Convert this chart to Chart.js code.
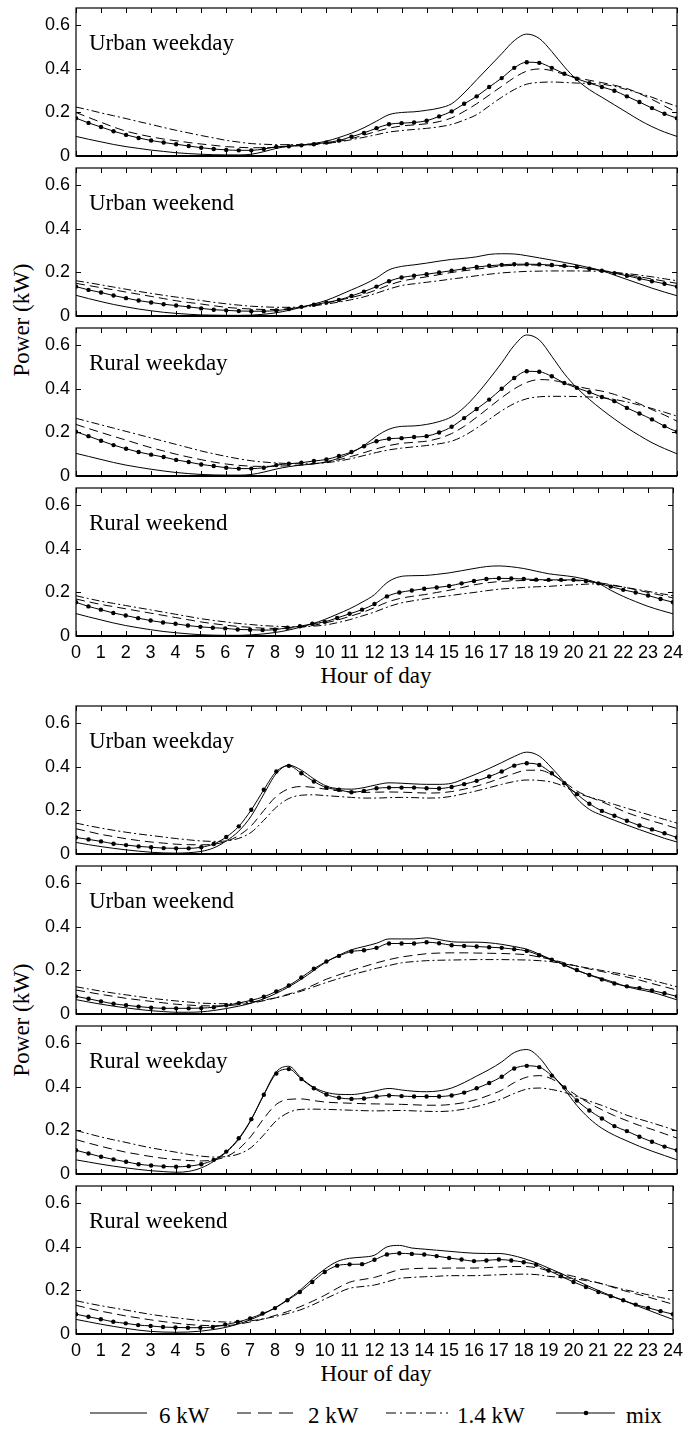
<!DOCTYPE html>
<html>
<head>
<meta charset="utf-8">
<script src="https://cdn.jsdelivr.net/npm/chart.js@4.4.0/dist/chart.umd.min.js"></script>
<style>
  body { margin: 0; background: #fff; }
  #page { position: relative; width: 689px; height: 1429px; overflow: hidden; background: #fff; }
  #page canvas { position: absolute; left: 0; }
  .serif { position: absolute; font-family: "Liberation Serif", "Times New Roman", serif; font-size: 23px; color: #000; white-space: nowrap; }
  .ylab { transform: translate(-50%, -50%) rotate(-90deg); }
  .xlab { transform: translate(-50%, -50%); }
  #legend { position: absolute; left: 0; top: 1395px; }
</style>
</head>
<body>
<div id="page">
  <div class="serif ylab" style="left:22px; top:320px;">Power (kW)</div>
  <div class="serif xlab" style="left:376px; top:676px;">Hour of day</div>
  <div class="serif ylab" style="left:22px; top:1020px;">Power (kW)</div>
  <div class="serif xlab" style="left:376px; top:1374px;">Hour of day</div>
  <svg id="legend" width="689" height="34" font-family="Liberation Serif, Times New Roman, serif" font-size="23">
    <line x1="90" y1="18" x2="147" y2="18" stroke="#000" stroke-width="1"/>
    <text x="159" y="28">6 kW</text>
    <line x1="237" y1="18" x2="294" y2="18" stroke="#000" stroke-width="1" stroke-dasharray="14,7"/>
    <text x="308" y="28">2 kW</text>
    <line x1="386" y1="18" x2="448" y2="18" stroke="#000" stroke-width="1" stroke-dasharray="10,4,2,4"/>
    <text x="457" y="28">1.4 kW</text>
    <line x1="556" y1="18" x2="615" y2="18" stroke="#000" stroke-width="1"/>
    <circle cx="586" cy="18" r="2.3" fill="#000"/>
    <text x="626" y="28">mix</text>
  </svg>
</div>
<script>
// half-hour sample points
var hours = [0,0.5,1,1.5,2,2.5,3,3.5,4,4.5,5,5.5,6,6.5,7,7.5,8,8.5,9,9.5,10,10.5,11,11.5,12,12.5,
  13,13.5,14,14.5,15,15.5,16,16.5,17,17.5,18,18.5,19,19.5,20,20.5,21,21.5,22,22.5,23,23.5,24];
var xTickValues = [0,1,2,3,4,5,6,7,8,9,10,11,12,13,14,15,16,17,18,19,20,21,22,23,24];
var xTickLabels = ['0','1','2','3','4','5','6','7','8','9','10','11','12','13','14','15','16','17','18','19','20','21','22','23','24'];
var yTickValues = [0, 0.2, 0.4, 0.6];
var yTickLabels = ['0', '0.2', '0.4', '0.6'];
var seriesNames = ['6 kW', '2 kW', '1.4 kW', 'mix'];
var panelNames = ['Urban weekday', 'Urban weekend', 'Rural weekday', 'Rural weekend'];

// upper group
var uwd1_6 = [0.09,0.077,0.065,0.053,0.043,0.035,0.027,0.021,0.015,0.011,0.008,0.006,0.005,0.005,0.008,0.02,0.035,0.045,0.05,0.058,0.068,0.085,0.105,0.13,0.16,0.19,0.2,0.203,0.21,0.22,0.24,0.29,0.35,0.41,0.47,0.53,0.56,0.54,0.48,0.41,0.35,0.305,0.27,0.235,0.2,0.165,0.135,0.11,0.09];
var uwd1_2 = [0.2,0.177,0.155,0.133,0.114,0.1,0.088,0.078,0.07,0.062,0.055,0.049,0.043,0.04,0.038,0.038,0.04,0.044,0.048,0.052,0.058,0.067,0.08,0.096,0.113,0.128,0.138,0.143,0.148,0.158,0.175,0.205,0.24,0.28,0.32,0.36,0.39,0.4,0.392,0.375,0.36,0.348,0.337,0.325,0.31,0.287,0.26,0.23,0.2];
var uwd1_14 = [0.225,0.212,0.198,0.185,0.172,0.158,0.145,0.131,0.118,0.106,0.094,0.083,0.072,0.064,0.057,0.054,0.052,0.052,0.053,0.055,0.058,0.065,0.075,0.086,0.098,0.11,0.117,0.122,0.127,0.134,0.145,0.165,0.19,0.23,0.27,0.305,0.33,0.338,0.34,0.338,0.335,0.333,0.33,0.32,0.305,0.288,0.27,0.248,0.228];
var uwd1_mix = [0.174,0.152,0.133,0.114,0.097,0.083,0.071,0.062,0.054,0.046,0.038,0.032,0.028,0.026,0.026,0.032,0.042,0.045,0.049,0.054,0.062,0.071,0.089,0.106,0.128,0.146,0.151,0.154,0.162,0.182,0.205,0.24,0.274,0.317,0.358,0.405,0.431,0.428,0.405,0.378,0.355,0.335,0.317,0.3,0.274,0.248,0.22,0.194,0.174];

var uwe1_6 = [0.095,0.08,0.066,0.053,0.042,0.032,0.024,0.017,0.012,0.008,0.005,0.004,0.003,0.003,0.004,0.008,0.015,0.026,0.04,0.055,0.072,0.095,0.12,0.145,0.175,0.212,0.228,0.235,0.243,0.252,0.26,0.265,0.272,0.283,0.286,0.285,0.277,0.267,0.257,0.246,0.235,0.222,0.208,0.188,0.168,0.148,0.128,0.11,0.093];
var uwe1_2 = [0.15,0.14,0.13,0.12,0.11,0.1,0.09,0.08,0.07,0.062,0.055,0.047,0.04,0.035,0.032,0.03,0.03,0.034,0.04,0.048,0.06,0.072,0.085,0.1,0.12,0.142,0.16,0.171,0.18,0.19,0.2,0.208,0.215,0.223,0.23,0.233,0.235,0.233,0.23,0.228,0.225,0.218,0.21,0.2,0.19,0.18,0.17,0.16,0.15];
var uwe1_14 = [0.162,0.153,0.143,0.133,0.123,0.113,0.104,0.095,0.087,0.079,0.071,0.063,0.056,0.05,0.045,0.042,0.04,0.04,0.042,0.047,0.055,0.064,0.075,0.088,0.105,0.124,0.14,0.148,0.155,0.162,0.17,0.177,0.185,0.192,0.198,0.202,0.205,0.206,0.207,0.207,0.207,0.206,0.205,0.2,0.195,0.188,0.18,0.171,0.162];
var uwe1_mix = [0.135,0.12,0.108,0.094,0.082,0.071,0.062,0.054,0.048,0.042,0.035,0.029,0.026,0.023,0.022,0.022,0.025,0.032,0.042,0.052,0.062,0.074,0.092,0.112,0.135,0.16,0.177,0.185,0.192,0.2,0.208,0.217,0.225,0.231,0.235,0.238,0.238,0.237,0.234,0.231,0.225,0.217,0.208,0.197,0.185,0.172,0.16,0.148,0.135];

var rwd1_6 = [0.104,0.09,0.076,0.062,0.05,0.04,0.031,0.023,0.016,0.011,0.007,0.005,0.004,0.004,0.007,0.018,0.032,0.043,0.05,0.056,0.065,0.082,0.107,0.14,0.183,0.215,0.228,0.23,0.237,0.25,0.272,0.315,0.375,0.445,0.52,0.6,0.648,0.625,0.55,0.47,0.405,0.352,0.305,0.262,0.222,0.186,0.153,0.126,0.102];
var rwd1_2 = [0.237,0.218,0.2,0.182,0.165,0.147,0.13,0.115,0.1,0.087,0.075,0.064,0.055,0.049,0.045,0.044,0.045,0.047,0.05,0.056,0.064,0.075,0.09,0.107,0.125,0.14,0.15,0.155,0.16,0.173,0.195,0.228,0.27,0.315,0.36,0.4,0.43,0.443,0.44,0.428,0.412,0.4,0.39,0.375,0.355,0.332,0.305,0.28,0.252];
var rwd1_14 = [0.265,0.25,0.235,0.22,0.205,0.19,0.175,0.16,0.145,0.13,0.115,0.102,0.09,0.079,0.07,0.064,0.06,0.057,0.056,0.057,0.061,0.069,0.08,0.094,0.108,0.12,0.128,0.134,0.14,0.148,0.16,0.185,0.22,0.26,0.3,0.333,0.355,0.364,0.366,0.366,0.365,0.363,0.36,0.352,0.34,0.326,0.31,0.293,0.275];
var rwd1_mix = [0.203,0.183,0.162,0.142,0.125,0.11,0.098,0.087,0.074,0.064,0.053,0.046,0.038,0.034,0.034,0.038,0.05,0.056,0.061,0.069,0.076,0.092,0.11,0.137,0.16,0.171,0.174,0.179,0.183,0.2,0.226,0.266,0.308,0.351,0.401,0.45,0.481,0.479,0.458,0.427,0.405,0.385,0.363,0.344,0.313,0.287,0.26,0.229,0.203];

var rwe1_6 = [0.103,0.088,0.074,0.06,0.048,0.038,0.029,0.021,0.015,0.01,0.006,0.004,0.003,0.003,0.005,0.009,0.016,0.026,0.04,0.056,0.076,0.1,0.125,0.155,0.19,0.245,0.272,0.277,0.278,0.283,0.29,0.3,0.31,0.319,0.322,0.318,0.31,0.298,0.286,0.279,0.272,0.26,0.242,0.21,0.182,0.158,0.136,0.118,0.102];
var rwe1_2 = [0.17,0.157,0.145,0.135,0.125,0.115,0.105,0.095,0.085,0.075,0.065,0.057,0.05,0.044,0.04,0.036,0.035,0.036,0.04,0.048,0.06,0.073,0.09,0.108,0.13,0.155,0.172,0.182,0.19,0.2,0.21,0.222,0.235,0.244,0.25,0.253,0.255,0.255,0.255,0.255,0.255,0.251,0.245,0.236,0.225,0.213,0.2,0.188,0.175];
var rwe1_14 = [0.185,0.172,0.16,0.15,0.14,0.13,0.12,0.11,0.1,0.09,0.08,0.072,0.065,0.058,0.053,0.048,0.045,0.043,0.042,0.045,0.05,0.061,0.075,0.092,0.11,0.132,0.15,0.161,0.17,0.178,0.185,0.193,0.2,0.208,0.215,0.219,0.223,0.226,0.228,0.232,0.235,0.238,0.24,0.233,0.225,0.215,0.205,0.195,0.185];
var rwe1_mix = [0.155,0.136,0.121,0.106,0.094,0.082,0.071,0.062,0.056,0.048,0.042,0.038,0.035,0.03,0.029,0.027,0.029,0.038,0.045,0.056,0.065,0.083,0.102,0.121,0.147,0.182,0.2,0.209,0.217,0.223,0.23,0.242,0.253,0.262,0.265,0.264,0.262,0.259,0.258,0.258,0.258,0.253,0.242,0.227,0.212,0.2,0.186,0.17,0.155];

// lower group
var uwd2_6 = [0.053,0.043,0.034,0.026,0.019,0.013,0.008,0.005,0.004,0.006,0.012,0.028,0.06,0.105,0.175,0.275,0.37,0.408,0.385,0.345,0.312,0.3,0.298,0.305,0.318,0.327,0.325,0.322,0.32,0.32,0.325,0.345,0.368,0.393,0.42,0.448,0.468,0.45,0.395,0.33,0.255,0.205,0.178,0.155,0.133,0.112,0.092,0.072,0.055];
var uwd2_2 = [0.116,0.103,0.09,0.08,0.07,0.062,0.055,0.05,0.045,0.043,0.042,0.045,0.058,0.085,0.13,0.2,0.265,0.3,0.31,0.306,0.297,0.29,0.285,0.283,0.284,0.285,0.284,0.282,0.28,0.281,0.287,0.298,0.312,0.33,0.35,0.37,0.385,0.385,0.365,0.33,0.29,0.262,0.24,0.215,0.19,0.17,0.152,0.135,0.117];
var uwd2_14 = [0.142,0.13,0.119,0.109,0.1,0.092,0.085,0.078,0.071,0.065,0.06,0.058,0.06,0.072,0.1,0.155,0.215,0.255,0.27,0.272,0.268,0.264,0.26,0.257,0.257,0.259,0.26,0.259,0.257,0.258,0.265,0.277,0.29,0.305,0.32,0.333,0.34,0.338,0.33,0.31,0.28,0.262,0.245,0.228,0.21,0.193,0.176,0.159,0.142];
var uwd2_mix = [0.076,0.067,0.058,0.047,0.041,0.035,0.031,0.027,0.026,0.026,0.031,0.046,0.078,0.127,0.203,0.295,0.379,0.405,0.371,0.333,0.305,0.295,0.284,0.29,0.302,0.305,0.305,0.305,0.302,0.301,0.308,0.321,0.336,0.356,0.379,0.406,0.417,0.409,0.371,0.325,0.275,0.231,0.198,0.176,0.153,0.131,0.113,0.095,0.076];

var uwe2_6 = [0.066,0.055,0.045,0.036,0.028,0.021,0.015,0.011,0.008,0.008,0.01,0.016,0.025,0.036,0.05,0.07,0.095,0.125,0.16,0.2,0.24,0.27,0.295,0.31,0.325,0.345,0.345,0.345,0.35,0.342,0.332,0.33,0.33,0.327,0.32,0.31,0.298,0.275,0.25,0.225,0.2,0.18,0.163,0.145,0.125,0.112,0.1,0.083,0.065];
var uwe2_2 = [0.11,0.1,0.09,0.081,0.072,0.065,0.058,0.051,0.045,0.041,0.038,0.037,0.038,0.043,0.05,0.061,0.075,0.092,0.11,0.134,0.16,0.18,0.2,0.218,0.235,0.25,0.262,0.27,0.277,0.28,0.281,0.281,0.28,0.279,0.278,0.276,0.272,0.262,0.25,0.235,0.22,0.207,0.195,0.183,0.17,0.156,0.14,0.125,0.11];
var uwe2_14 = [0.125,0.115,0.105,0.096,0.088,0.08,0.072,0.066,0.06,0.055,0.05,0.048,0.047,0.05,0.055,0.064,0.075,0.089,0.105,0.125,0.145,0.163,0.18,0.195,0.21,0.223,0.235,0.241,0.245,0.247,0.248,0.249,0.25,0.25,0.25,0.249,0.248,0.245,0.24,0.23,0.22,0.21,0.2,0.19,0.18,0.168,0.155,0.14,0.125];
var uwe2_mix = [0.081,0.07,0.058,0.047,0.04,0.034,0.029,0.026,0.026,0.026,0.027,0.031,0.04,0.05,0.063,0.079,0.104,0.131,0.168,0.208,0.241,0.267,0.287,0.293,0.304,0.324,0.324,0.324,0.33,0.325,0.316,0.313,0.31,0.307,0.304,0.298,0.29,0.27,0.249,0.226,0.202,0.179,0.159,0.14,0.127,0.119,0.108,0.095,0.081];

var rwd2_6 = [0.065,0.055,0.045,0.036,0.028,0.021,0.015,0.011,0.008,0.012,0.028,0.058,0.1,0.16,0.25,0.365,0.47,0.495,0.44,0.398,0.375,0.366,0.365,0.372,0.383,0.393,0.386,0.38,0.378,0.382,0.395,0.42,0.45,0.48,0.515,0.558,0.572,0.535,0.46,0.39,0.315,0.255,0.21,0.178,0.152,0.127,0.105,0.085,0.065];
var rwd2_2 = [0.158,0.142,0.127,0.113,0.1,0.09,0.08,0.072,0.066,0.062,0.06,0.065,0.08,0.115,0.175,0.255,0.32,0.343,0.345,0.337,0.33,0.327,0.325,0.323,0.322,0.321,0.32,0.318,0.316,0.316,0.32,0.328,0.342,0.362,0.385,0.42,0.445,0.452,0.437,0.4,0.36,0.325,0.295,0.268,0.245,0.223,0.205,0.185,0.165];
var rwd2_14 = [0.2,0.185,0.17,0.157,0.145,0.132,0.12,0.11,0.1,0.09,0.082,0.078,0.08,0.092,0.122,0.18,0.245,0.283,0.297,0.298,0.297,0.295,0.293,0.291,0.29,0.291,0.292,0.29,0.288,0.287,0.29,0.298,0.31,0.326,0.345,0.37,0.39,0.395,0.388,0.375,0.355,0.335,0.315,0.293,0.27,0.252,0.235,0.217,0.198];
var rwd2_mix = [0.109,0.094,0.079,0.067,0.056,0.045,0.039,0.035,0.033,0.036,0.045,0.065,0.103,0.164,0.252,0.364,0.462,0.482,0.436,0.394,0.365,0.35,0.345,0.347,0.356,0.361,0.358,0.356,0.356,0.356,0.361,0.374,0.394,0.418,0.447,0.485,0.497,0.491,0.452,0.398,0.338,0.292,0.255,0.22,0.197,0.171,0.148,0.126,0.109];

var rwe2_6 = [0.067,0.056,0.045,0.035,0.026,0.018,0.012,0.009,0.008,0.009,0.013,0.02,0.03,0.045,0.065,0.09,0.12,0.158,0.2,0.252,0.298,0.333,0.348,0.353,0.362,0.4,0.407,0.395,0.39,0.385,0.38,0.375,0.371,0.37,0.37,0.362,0.347,0.327,0.303,0.278,0.252,0.225,0.2,0.176,0.154,0.132,0.11,0.088,0.067];
var rwe2_2 = [0.132,0.118,0.105,0.094,0.083,0.074,0.065,0.057,0.05,0.044,0.04,0.038,0.038,0.045,0.055,0.068,0.085,0.103,0.125,0.15,0.178,0.21,0.238,0.25,0.26,0.278,0.295,0.3,0.302,0.302,0.303,0.303,0.303,0.305,0.308,0.31,0.31,0.305,0.29,0.278,0.265,0.25,0.235,0.218,0.2,0.185,0.17,0.153,0.137];
var rwe2_14 = [0.153,0.141,0.13,0.12,0.11,0.1,0.09,0.082,0.075,0.068,0.062,0.058,0.055,0.056,0.06,0.069,0.08,0.094,0.11,0.133,0.16,0.187,0.21,0.218,0.225,0.24,0.255,0.26,0.263,0.265,0.268,0.268,0.268,0.27,0.272,0.274,0.275,0.273,0.265,0.26,0.255,0.245,0.235,0.22,0.205,0.193,0.18,0.168,0.157];
var rwe2_mix = [0.091,0.079,0.068,0.056,0.049,0.041,0.037,0.032,0.03,0.029,0.029,0.032,0.043,0.055,0.072,0.094,0.119,0.155,0.193,0.239,0.285,0.314,0.32,0.321,0.341,0.365,0.371,0.368,0.365,0.358,0.349,0.342,0.335,0.338,0.342,0.338,0.33,0.318,0.292,0.265,0.239,0.216,0.193,0.174,0.155,0.135,0.12,0.105,0.091];

var PLOT_H = 148;
var PAD = 20;   // room above/below each plot area for edge tick labels
var panels = [
  { top: 8,    name: panelNames[0], s: [uwd1_6, uwd1_2, uwd1_14, uwd1_mix], axis: false },
  { top: 168,  name: panelNames[1], s: [uwe1_6, uwe1_2, uwe1_14, uwe1_mix], axis: false },
  { top: 328,  name: panelNames[2], s: [rwd1_6, rwd1_2, rwd1_14, rwd1_mix], axis: false },
  { top: 488,  name: panelNames[3], s: [rwe1_6, rwe1_2, rwe1_14, rwe1_mix], axis: true },
  { top: 706,  name: panelNames[0], s: [uwd2_6, uwd2_2, uwd2_14, uwd2_mix], axis: false },
  { top: 866,  name: panelNames[1], s: [uwe2_6, uwe2_2, uwe2_14, uwe2_mix], axis: false },
  { top: 1026, name: panelNames[2], s: [rwd2_6, rwd2_2, rwd2_14, rwd2_mix], axis: false },
  { top: 1186, name: panelNames[3], s: [rwe2_6, rwe2_2, rwe2_14, rwe2_mix], axis: true }
];

function pts(arr) {
  return arr.map(function (v, i) { return { x: hours[i], y: v }; });
}

function makeSets(s) {
  var base = { borderColor: '#000', borderWidth: 1, pointRadius: 0, fill: false, cubicInterpolationMode: 'monotone' };
  return [
    Object.assign({ label: seriesNames[0], data: pts(s[0]) }, base),
    Object.assign({ label: seriesNames[1], data: pts(s[1]), borderDash: [9, 5] }, base),
    Object.assign({ label: seriesNames[2], data: pts(s[2]), borderDash: [8, 3, 2, 3] }, base),
    Object.assign({}, base, { label: seriesNames[3], data: pts(s[3]), pointRadius: 2.2,
      pointBackgroundColor: '#000', pointBorderWidth: 0 })
  ];
}

// frame, inward ticks and panel name
var framePlugin = {
  id: 'frame',
  afterDatasetsDraw: function (chart, args, opts) {
    var ctx = chart.ctx, a = chart.chartArea;
    var sx = chart.scales.x, sy = chart.scales.y;
    ctx.save();
    ctx.strokeStyle = '#000';
    ctx.lineWidth = 1.2;
    ctx.strokeRect(a.left, a.top, a.right - a.left, a.bottom - a.top);
    ctx.lineWidth = 2;
    ctx.beginPath();
    ctx.moveTo(a.left, a.bottom);
    ctx.lineTo(a.right, a.bottom);
    ctx.stroke();
    ctx.lineWidth = 1;
    ctx.beginPath();
    xTickValues.forEach(function (v) {
      var px = Math.round(sx.getPixelForValue(v)) + 0.5;
      ctx.moveTo(px, a.bottom); ctx.lineTo(px, a.bottom - 5);
      ctx.moveTo(px, a.top); ctx.lineTo(px, a.top + 5);
    });
    yTickValues.forEach(function (v) {
      var py = Math.round(sy.getPixelForValue(v)) + 0.5;
      ctx.moveTo(a.left, py); ctx.lineTo(a.left + 5, py);
      ctx.moveTo(a.right, py); ctx.lineTo(a.right - 5, py);
    });
    ctx.stroke();
    ctx.fillStyle = '#000';
    ctx.font = '23px "Liberation Serif", "Times New Roman", serif';
    ctx.textBaseline = 'middle';
    ctx.fillText(opts.name, a.left + 13, a.top + 36);
    ctx.restore();
  }
};

var tickFont = { family: '"Liberation Sans", Arial, sans-serif', size: 18 };
var page = document.getElementById('page');

panels.forEach(function (p) {
  var c = document.createElement('canvas');
  var h = PAD + PLOT_H + (p.axis ? 36 : PAD);
  c.width = 689;
  c.height = h;
  c.style.top = (p.top - PAD) + 'px';
  c.style.width = '689px';
  c.style.height = h + 'px';
  page.appendChild(c);

  new Chart(c, {
    type: 'line',
    data: { datasets: makeSets(p.s) },
    options: {
      responsive: false,
      animation: false,
      devicePixelRatio: 1,
      events: [],
      layout: { padding: { top: PAD, bottom: p.axis ? 0 : PAD, left: 0, right: 12 } },
      plugins: {
        legend: { display: false },
        tooltip: { enabled: false },
        frame: { name: p.name }
      },
      scales: {
        x: {
          type: 'linear', min: 0, max: 24,
          grid: { display: false, drawTicks: false },
          border: { display: false },
          afterBuildTicks: function (s) { s.ticks = xTickValues.map(function (v) { return { value: v }; }); },
          afterFit: function (s) { s.height = p.axis ? 36 : 0; },
          ticks: {
            display: p.axis, autoSkip: false, maxRotation: 0, minRotation: 0, padding: 6,
            color: '#000', font: tickFont,
            callback: function (v, i) { return xTickLabels[i]; }
          }
        },
        y: {
          min: 0, max: 0.68,
          grid: { display: false, drawTicks: false },
          border: { display: false },
          afterBuildTicks: function (s) { s.ticks = yTickValues.map(function (v) { return { value: v }; }); },
          afterFit: function (s) { s.width = 76; },
          ticks: {
            padding: 6, color: '#000', font: tickFont,
            callback: function (v, i) { return yTickLabels[i]; }
          }
        }
      }
    },
    plugins: [framePlugin]
  });
});
</script>
</body>
</html>
